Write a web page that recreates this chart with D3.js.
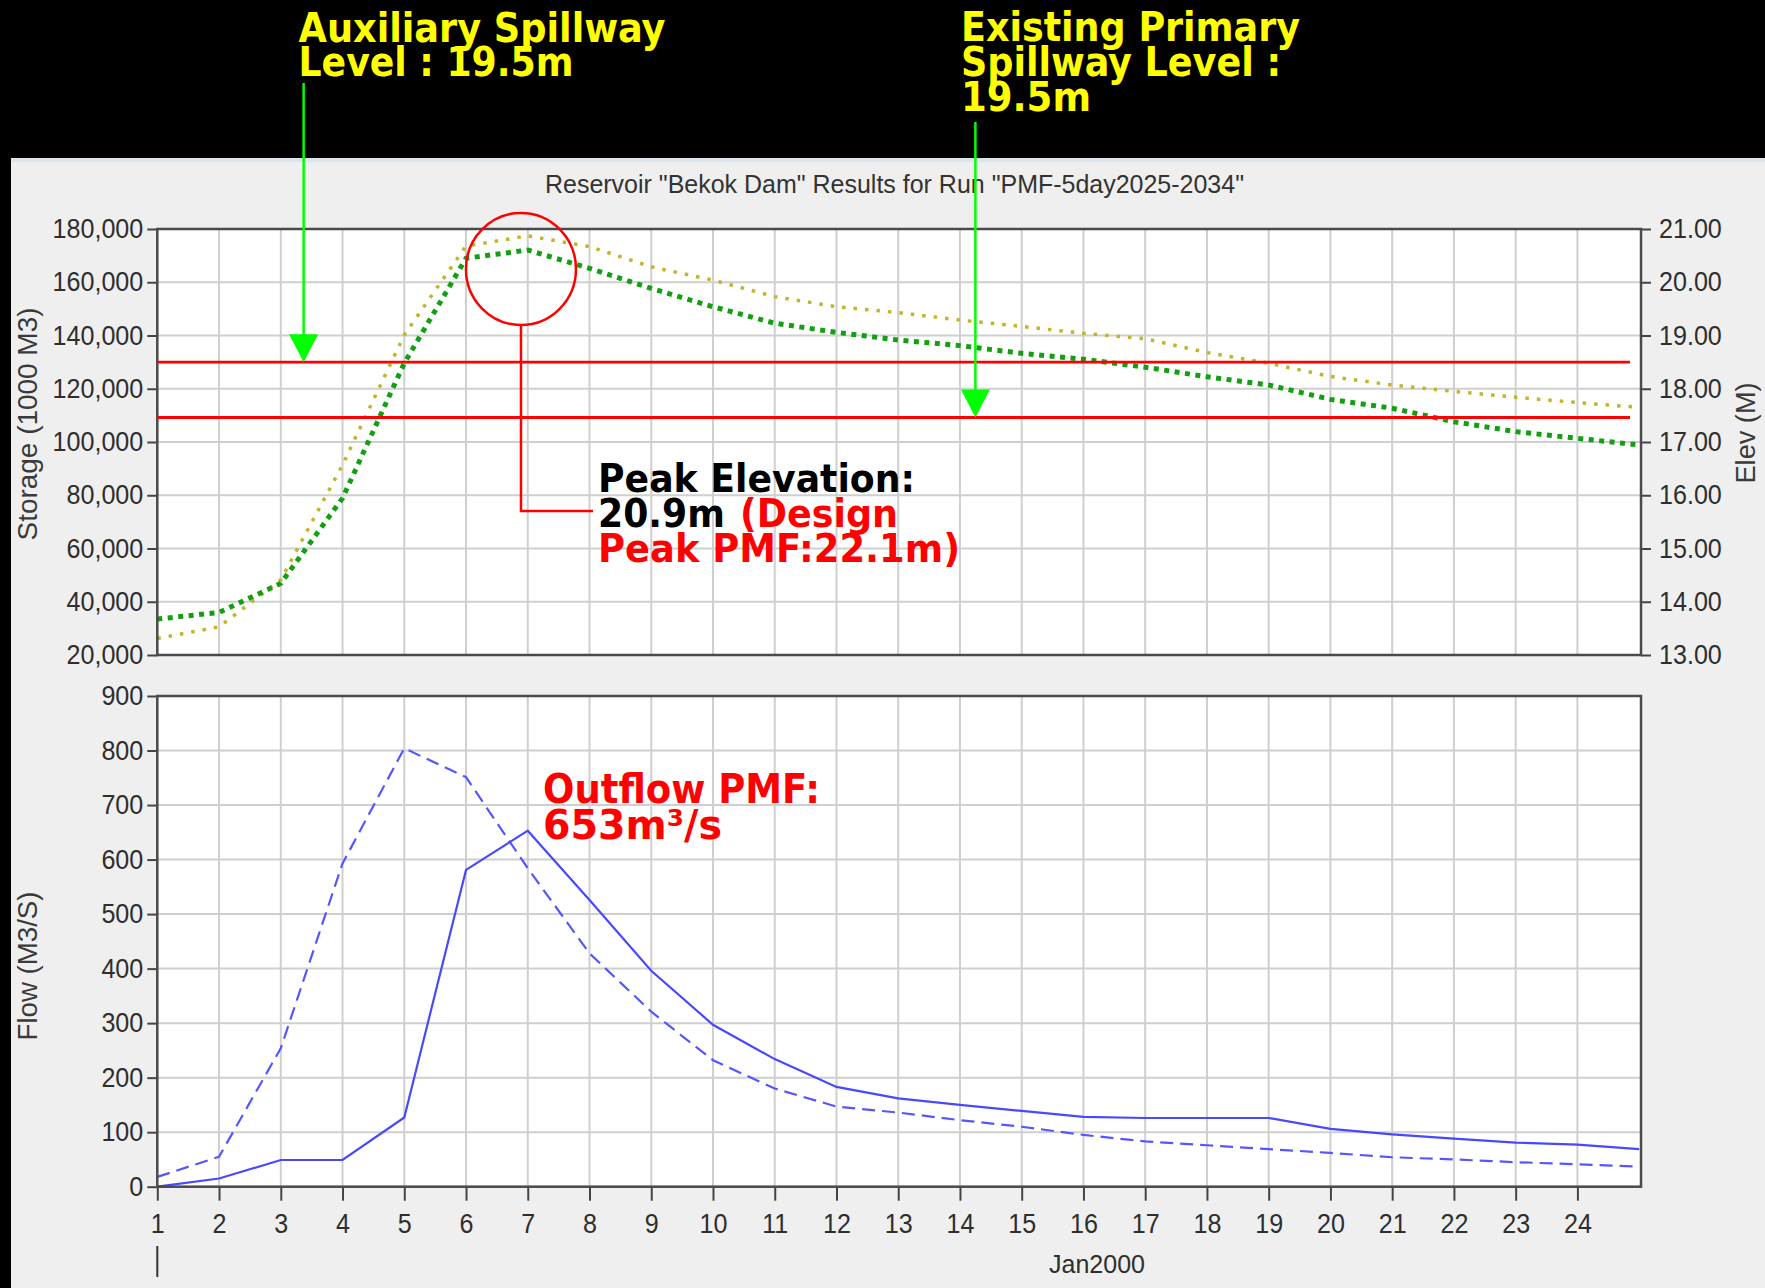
<!DOCTYPE html>
<html>
<head>
<meta charset="utf-8">
<script src="https://cdn.jsdelivr.net/npm/d3@7"></script>
<style>
  body { margin: 0; background: #000; }
  svg { display: block; }
</style>
</head>
<body>
<svg id="chart"></svg>
<script>
// ****************************************
// Data

var days = [1, 2, 3, 4, 5, 6, 7, 8, 9, 10, 11, 12, 13, 14, 15, 16, 17, 18, 19, 20, 21, 22, 23, 24, 25];

// storage (1000 m3), green dotted, left axis
var storage = [33500, 36000, 46900, 78900, 129600, 169000, 172100, 165200, 157700, 150800, 144600, 141200,
  138300, 136200, 133300, 131100, 128100, 124500, 121400, 116000, 112700, 107600, 103900, 101400, 98900];

// elevation (m), olive dotted, right axis
var elevation = [13.31, 13.53, 14.41, 16.57, 19.01, 20.68, 20.87, 20.67, 20.29, 20.04, 19.73, 19.54,
  19.43, 19.29, 19.17, 19.04, 18.94, 18.68, 18.48, 18.23, 18.07, 17.95, 17.84, 17.74, 17.65];

// flows (m3/s)
var inflow = [18, 55, 254, 593, 804, 751, 584, 428, 321, 232, 180, 147, 136, 122, 110, 95, 83, 76, 69, 62, 54, 50, 45, 41, 37];
var outflow = [0, 15, 49, 49, 127, 581, 653, 526, 396, 297, 234, 183, 162, 150, 139, 128, 126, 126, 126, 106, 96, 88, 81, 77, 69];

var day_ticks = [1, 2, 3, 4, 5, 6, 7, 8, 9, 10, 11, 12, 13, 14, 15, 16, 17, 18, 19, 20, 21, 22, 23, 24];
var storage_ticks = [20000, 40000, 60000, 80000, 100000, 120000, 140000, 160000, 180000];
var elev_ticks = [13, 14, 15, 16, 17, 18, 19, 20, 21];
var flow_ticks = [0, 100, 200, 300, 400, 500, 600, 700, 800, 900];

var spillway_levels = [18.5, 17.46];

var chart_title = 'Reservoir "Bekok Dam" Results for Run "PMF-5day2025-2034"';

// ************************************************************************************************** //
// Setup

var W = 1765, H = 1288;
var plot = { left: 157.3, right: 1641, top1: 229, bottom1: 655, top2: 696, bottom2: 1186.7 };

var svg = d3.select('#chart').attr('width', W).attr('height', H);

var x = d3.scaleLinear().domain([1, 25.03]).range([plot.left, plot.right]);
var y_stor = d3.scaleLinear().domain([20000, 180000]).range([plot.bottom1, plot.top1]);
var y_elev = d3.scaleLinear().domain([13, 21]).range([plot.bottom1, plot.top1]);
var y_flow = d3.scaleLinear().domain([0, 900]).range([plot.bottom2, plot.top2]);

var sans = '"Liberation Sans", Arial, sans-serif';
var bold = '"DejaVu Sans", Verdana, sans-serif';
var cond = '"DejaVu Sans Condensed", "DejaVu Sans", sans-serif';

function squeeze(sel, k){
  sel.each(function(){
    var w = this.getComputedTextLength();
    d3.select(this).attr('textLength', w*k).attr('lengthAdjust', 'spacingAndGlyphs');
  });
}

function fit(sel, w){
  sel.attr('textLength', w).attr('lengthAdjust', 'spacingAndGlyphs');
}

// ****************************************
// Backgrounds

svg.append('rect').attr('width', W).attr('height', H).attr('fill', '#000');
svg.append('rect').attr('x', 11).attr('y', 158).attr('width', W-11).attr('height', H-158).attr('fill', '#efefef');
svg.append('rect').attr('x', 11).attr('y', 158).attr('width', W-11).attr('height', 4).attr('fill', '#dce4ec');

svg.append('rect').attr('x', plot.left).attr('y', plot.top1).attr('width', plot.right-plot.left).attr('height', plot.bottom1-plot.top1).attr('fill', '#fff');
svg.append('rect').attr('x', plot.left).attr('y', plot.top2).attr('width', plot.right-plot.left).attr('height', plot.bottom2-plot.top2).attr('fill', '#fff');

// ****************************************
// Grid

var grid = svg.append('g').attr('stroke', '#cfcfcf').attr('stroke-width', 2);

[[plot.top1, plot.bottom1], [plot.top2, plot.bottom2]].forEach(function(p){
  grid.selectAll(null).data(day_ticks.slice(1)).enter().append('line')
    .attr('x1', function(d){ return x(d); }).attr('x2', function(d){ return x(d); })
    .attr('y1', p[0]).attr('y2', p[1]);
});

grid.selectAll(null).data(storage_ticks).enter().append('line')
  .attr('x1', plot.left).attr('x2', plot.right)
  .attr('y1', function(d){ return y_stor(d); }).attr('y2', function(d){ return y_stor(d); });

grid.selectAll(null).data(flow_ticks).enter().append('line')
  .attr('x1', plot.left).attr('x2', plot.right)
  .attr('y1', function(d){ return y_flow(d); }).attr('y2', function(d){ return y_flow(d); });

// ****************************************
// Axes

function style_axis(g){
  g.select('.domain').remove();
  g.selectAll('.tick line').attr('stroke', '#444').attr('stroke-width', 2);
  g.selectAll('.tick text').attr('fill', '#2e2e2e').style('font-family', sans).style('font-size', '27px');
  squeeze(g.selectAll('.tick text'), 0.93);
}

svg.append('g').attr('transform', 'translate(' + plot.left + ',0)')
  .call(d3.axisLeft(y_stor).tickValues(storage_ticks).tickFormat(d3.format(',')).tickSize(10).tickPadding(4))
  .call(style_axis);

svg.append('g').attr('transform', 'translate(' + plot.right + ',0)')
  .call(d3.axisRight(y_elev).tickValues(elev_ticks).tickFormat(d3.format('.2f')).tickSize(10).tickPadding(8))
  .call(style_axis);

svg.append('g').attr('transform', 'translate(' + plot.left + ',0)')
  .call(d3.axisLeft(y_flow).tickValues(flow_ticks).tickSize(10).tickPadding(4))
  .call(style_axis);

svg.append('g').attr('transform', 'translate(0,' + plot.bottom2 + ')')
  .call(d3.axisBottom(x).tickValues(day_ticks).tickFormat(d3.format('d')).tickSize(14).tickPadding(13))
  .call(style_axis);

// month marker and label
svg.append('line').attr('x1', x(1)).attr('x2', x(1)).attr('y1', 1246).attr('y2', 1277).attr('stroke', '#333').attr('stroke-width', 2);
svg.append('text').attr('x', 1097).attr('y', 1273).attr('text-anchor', 'middle')
  .style('font-family', sans).style('font-size', '26px').attr('fill', '#2e2e2e').text('Jan2000').call(fit, 96);

// axis titles
function axis_title(tx, ty, rot, txt, len){
  svg.append('text').attr('transform', 'translate(' + tx + ',' + ty + ') rotate(' + rot + ')')
    .attr('text-anchor', 'middle').attr('dy', '0.35em')
    .style('font-family', sans).style('font-size', '27px').attr('fill', '#3a3a3a')
    .text(txt).call(fit, len);
}
axis_title(28, 424, -90, 'Storage (1000 M3)', 233);
axis_title(1746, 433, -90, 'Elev (M)', 101);
axis_title(28, 966, -90, 'Flow (M3/S)', 149);

svg.append('text').attr('x', 545).attr('y', 193)
  .style('font-family', sans).style('font-size', '25px').attr('fill', '#333')
  .text(chart_title).call(fit, 699);

// ****************************************
// Series

var line_stor = d3.line().x(function(d, i){ return x(days[i]); }).y(function(d){ return y_stor(d); });
var line_elev = d3.line().x(function(d, i){ return x(days[i]); }).y(function(d){ return y_elev(d); });
var line_flow = d3.line().x(function(d, i){ return x(days[i]); }).y(function(d){ return y_flow(d); });

svg.append('path').datum(elevation).attr('d', line_elev)
  .attr('fill', 'none').attr('stroke', '#c2b52a').attr('stroke-width', 3.5).attr('stroke-dasharray', '3.5 8');

svg.append('path').datum(storage).attr('d', line_stor)
  .attr('fill', 'none').attr('stroke', '#12a012').attr('stroke-width', 5).attr('stroke-dasharray', '5 5.5');

svg.append('path').datum(inflow).attr('d', line_flow)
  .attr('fill', 'none').attr('stroke', '#5656ff').attr('stroke-width', 2.2).attr('stroke-dasharray', '13 7');

svg.append('path').datum(outflow).attr('d', line_flow)
  .attr('fill', 'none').attr('stroke', '#4848ff').attr('stroke-width', 2.2);

// ****************************************
// Plot borders

var border = svg.append('g').attr('fill', 'none').attr('stroke', '#4a4a4a').attr('stroke-width', 2.5);
border.append('rect').attr('x', plot.left).attr('y', plot.top1).attr('width', plot.right-plot.left).attr('height', plot.bottom1-plot.top1);
border.append('rect').attr('x', plot.left).attr('y', plot.top2).attr('width', plot.right-plot.left).attr('height', plot.bottom2-plot.top2);

// ****************************************
// Annotations

var red = '#ff0000', lime = '#00ff00', yellow = '#ffff00';

svg.selectAll(null).data(spillway_levels).enter().append('line')
  .attr('x1', plot.left).attr('x2', 1630)
  .attr('y1', function(d){ return y_elev(d); }).attr('y2', function(d){ return y_elev(d); })
  .attr('stroke', red).attr('stroke-width', 2.8);

// green arrows down to the spillway lines
[{ day: 3.37, top: 83, level: spillway_levels[0] }, { day: 14.25, top: 122, level: spillway_levels[1] }].forEach(function(a){
  var ax = x(a.day), tip = y_elev(a.level);
  svg.append('line').attr('x1', ax).attr('x2', ax).attr('y1', a.top).attr('y2', tip - 20).attr('stroke', lime).attr('stroke-width', 2.5);
  svg.append('path').attr('d', 'M' + (ax-14.5) + ',' + (tip-28) + 'L' + (ax+14.5) + ',' + (tip-28) + 'L' + ax + ',' + tip + 'Z').attr('fill', lime);
});

// circle round the peak and its leader
var cx = x(6.89), cy = y_elev(20.25);
svg.append('ellipse').attr('cx', cx).attr('cy', cy).attr('rx', 55).attr('ry', 56)
  .attr('fill', 'none').attr('stroke', red).attr('stroke-width', 2.5);
svg.append('path').attr('d', 'M' + cx + ',' + (cy+56) + 'V511H593')
  .attr('fill', 'none').attr('stroke', red).attr('stroke-width', 2.5);

// one text block per callout, each line a tspan: [x, baseline, text, colour, width]
function block(lines, size, family){
  var t = svg.append('text')
    .style('font-family', family).style('font-weight', 'bold').style('font-size', size + 'px');
  lines.forEach(function(l){
    t.append('tspan').attr('x', l[0]).attr('y', l[1]).attr('fill', l[3]).text(l[2]).call(fit, l[4]);
  });
}

block([[298.5, 42, 'Auxiliary Spillway', yellow, 367], [298.5, 76, 'Level : 19.5m', yellow, 275]], 41, cond);
block([[961, 41, 'Existing Primary', yellow, 339], [961, 75.5, 'Spillway Level :', yellow, 320], [961, 110.5, '19.5m', yellow, 130]], 41, cond);
block([[598, 491.5, 'Peak Elevation:', '#000', 317], [598, 526.5, '20.9m', '#000', 127],
  [740, 526.5, '(Design', red, 158], [598, 562, 'Peak PMF:22.1m)', red, 362]], 39, bold);
block([[543, 802.5, 'Outflow PMF:', red, 277], [543, 839, '653m\u00b3/s', red, 179]], 40, bold);
</script>
</body>
</html>
